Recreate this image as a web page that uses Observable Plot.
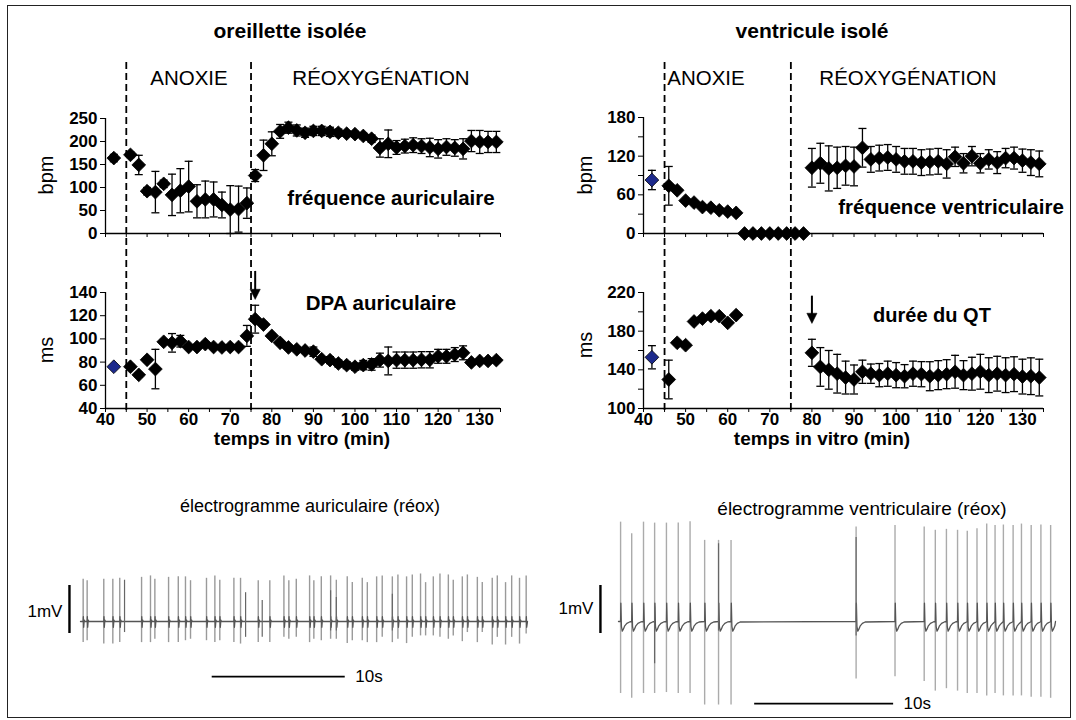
<!DOCTYPE html>
<html><head><meta charset="utf-8">
<script src="https://cdn.jsdelivr.net/npm/d3@7"></script>
<script src="https://cdn.jsdelivr.net/npm/@observablehq/plot@0.6"></script>
<style>
body{margin:0;background:#fff;}
#fig{position:relative;width:1076px;height:720px;overflow:hidden;font-family:"Liberation Sans",Arial,Helvetica,sans-serif;color:#000;background:#fff;}
.t{position:absolute;white-space:nowrap;transform:translate(-50%,-50%);line-height:1;}
.frame{position:absolute;left:7px;top:5px;width:1064px;height:713px;border:1.5px solid #222;box-sizing:border-box;}
</style></head><body><div id="fig"><div class="frame"></div></div>
<script>
// ---------- DATA ----------
const phaseBounds = [45, 75];           // anoxie start, réoxygénation start (min)
const xTickMinor = [40,45,50,55,60,65,70,75,80,85,90,95,100,105,110,115,120,125,130,135];
const xTickLabels = [40,50,60,70,80,90,100,110,120,130];

// oreillette : fréquence auriculaire (bpm)
const atrRateT = [42,46,48,50,52,54,56,58,60,62,64,66,68,70,72,74,76,78,80,82,84,86,88,90,92,94,96,98,100,102,104,106,108,110,112,114,116,118,120,122,124,126,128,130,132,134];
const atrRateM = [164,171,149,92,90,108,84,93,102,70,74,74,62,52,53,66,126,170,195,222,230,224,219,223,223,221,219,217,216,212,206,186,195,187,190,192,190,187,184,188,186,184,201,199,199,199];
const atrRateE = [8,6,21,8,45,8,45,48,55,36,40,38,28,52,50,33,13,33,26,15,12,12,10,10,10,10,8,6,6,6,8,20,30,15,15,16,16,20,20,18,18,22,23,25,23,23];
const atrRateTicks = [0,50,100,150,200,250];

// oreillette : DPA auriculaire (ms)
const atrApdT = atrRateT;
const atrApdM = [76,76,69,82,74,97.5,96.6,98,93,93,95.5,93,92.6,93,93,102.6,117,112.4,102.6,96.6,92.6,91,90,89,82.5,81.7,78.8,77.4,76,77.4,78,81.7,81,81.7,81.7,81.7,82,82,85,85,86.5,88,79.7,81,81,81.7];
const atrApdE = [0,2,2,2,17,2,8,5,2,2,2,2,2,2,2,9,12,2,2,2,2,2,2,4,2,3,3,3,3,4,5,6,12,7,7,7,7,7,6,6,6,6,2,2,2,2];
const atrApdTicks = [40,60,80,100,120,140];

// ventricule : fréquence ventriculaire (bpm)
const venRateT = [42,46,48,50,52,54,56,58,60,62,64,66,68,70,72,74,76,78,80,82,84,86,88,90,92,94,96,98,100,102,104,106,108,110,112,114,116,118,120,122,124,126,128,130,132,134];
const venRateM = [83,74,67,51,48,41,40,36,34,32,0,0,0,0,0,0,0,0,102,109,101,102,105,104,133,115,117,118,115,112,112,110,111,112,108,119,109,120,109,115,110,117,117,113,110,108];
const venRateE = [15,30,0,0,0,0,0,0,0,0,0,0,0,0,0,0,0,0,30,31,35,32,30,30,30,20,20,20,20,20,20,20,20,20,22,15,15,15,15,15,17,15,17,18,20,20];
const venRateTicks = [0,60,120,180];
const venRateMinor = [30,90,150];

// ventricule : durée du QT (ms)
const venQtT = [42,46,48,50,52,54,56,58,60,62,80,82,84,86,88,90,92,94,96,98,100,102,104,106,108,110,112,114,116,118,120,122,124,126,128,130,132,134];
const venQtM = [153,130,168,165.5,190,193,195.5,195.5,188.6,196.6,157.6,143,140,136,132,130,138,136,134.5,136,134.5,133.4,136,135.5,133.4,134.5,135.5,138,134.5,136,138,134.5,136,134.5,135.5,133,133.4,132];
const venQtE = [12,20,0,0,0,0,0,0,0,0,14,20,20,20,17,15,12,10,12,13,13,12,13,13,15,15,15,17,15,17,18,18,18,18,18,18,19,19];
const venQtTicks = [100,140,180,220];
const venQtMinor = [120,160,200];

// annotation arrows (first réoxygénation measurement)
const atrArrow = [{t:76, from:153, to:134}];
const venArrow = [{t:80, from:210, to:188}];

// électrogramme auriculaire (réox) : spike times (s), tops & bottoms (mV)
const atrSpikeT = [0.2,0.5,1.75,2.43,2.95,4.59,5.26,5.59,6.62,7.35,7.89,8.27,9.47,10.1,10.47,11.53,12.03,13.36,14.23,15.29,15.66,16.22,
  17.22,17.54,18.1,18.8,19.23,20.05,20.43,21.18,21.56,22.26,22.68,23.44,23.86,24.51,24.94,25.56,25.94,26.52,27.02,27.65,28.02,28.7,29.08,29.83,30.2,30.95,31.33,31.95,32.41,33.0,33.5];
const atrSpikeTop = [.88,.85,.88,.88,.9,.92,.95,.88,.92,.93,.93,.85,.9,.95,.86,.9,.9,.85,.85,.95,.85,.88,
  .95,.85,.93,.95,.86,.93,.81,.9,.81,.93,.95,.93,.97,.93,.97,.99,.81,.93,.99,.97,.86,.93,.97,.92,.81,.9,.95,.81,.95,.9,.95];
const atrSpikeBot = [-.44,-.4,-.47,-.47,-.44,-.44,-.44,-.37,-.44,-.44,-.4,-.37,-.4,-.44,-.4,-.44,-.47,-.44,-.44,-.33,-.37,-.33,
  -.44,-.37,-.4,-.37,-.37,-.46,-.4,-.4,-.44,-.44,-.33,-.44,-.37,-.46,-.33,-.3,-.3,-.3,-.33,-.37,-.3,-.42,-.23,-.44,-.23,-.49,-.33,-.49,-.33,-.47,-.26];
const atrDarkT = [3.31,12.41,13.66,18.8,19.23,23.44];
const atrDarkTop = [.86,.6,.44,.64,.5,.57];
const atrDarkBot = [-.23,-.33,-.33,-.2,-.2,-.2];
const atrBeatShape = [[0,0],[0.015,0.1],[0.04,-0.12],[0.08,0.03],[0.13,0]];   // (s, mV)
const atrDuration = 33.6;

// électrogramme ventriculaire (réox)
const venSpikeT = [0.15,0.95,1.8,2.6,3.45,4.3,5.15,6.2,7.2,8.1,17.1,19.9,22.0,22.8,23.6,24.4,25.1,25.8,26.5,27.1,27.7,28.4,29.0,29.7,30.4,31.1];
const venSpikeTop = [2.07,1.83,2.07,2.05,2.05,2.05,2.08,1.69,1.69,1.69,1.97,2.0,1.97,1.9,1.92,1.9,1.88,1.93,2.03,2.0,2.01,2.0,2.03,2.0,2.01,2.0];
const venSpikeBot = [-1.5,-1.6,-1.5,-1.5,-1.48,-1.5,-1.5,-1.74,-1.74,-1.74,-1.2,-1.15,-1.25,-1.45,-1.4,-1.45,-1.5,-1.5,-1.55,-1.5,-1.55,-1.55,-1.55,-1.58,-1.58,-1.6];
const venDarkT = [2.6,7.2,17.1];
const venDarkTop = [0.3,1.62,1.75];
const venDarkBot = [-0.88,-0.2,-0.3];
const venBeatShape = [[0,0],[0.02,0.38],[0.06,-0.1],[0.12,-0.2],[0.2,-0.16],[0.3,-0.09],[0.45,-0.04],[0.65,-0.01]];
const venDuration = 31.45;

// ---------- DRAWING ----------
const FONT = '"Liberation Sans", Arial, Helvetica, sans-serif';
const fig = document.getElementById("fig");

function place(svg, left, top) {
  svg.style.position = "absolute";
  svg.style.left = left + "px";
  svg.style.top = top + "px";
  svg.style.maxWidth = "none";
  fig.appendChild(svg);
}
function label(text, x, y, css) {
  const d = document.createElement("div");
  d.className = "t";
  d.textContent = text;
  d.style.left = x + "px";
  d.style.top = y + "px";
  Object.assign(d.style, css || {});
  fig.appendChild(d);
}

const capSymbol = { draw(ctx, size) { const w = Math.sqrt(size / Math.PI); ctx.moveTo(-w, 0); ctx.lineTo(w, 0); } };
// filled arrow head pointing down, tip at the origin
const headSymbol = { draw(ctx, size) { const w = Math.sqrt(size / Math.PI); ctx.moveTo(0, 0); ctx.lineTo(-w * 0.85, -w * 1.7); ctx.lineTo(w * 0.85, -w * 1.7); ctx.closePath(); } };

function panel(o) {
  const data = o.t.map((t, i) => ({ t, m: o.m[i], e: o.e[i], i }));
  const err = data.filter(d => d.e > 0);
  const blue = o.blue ? data.filter(d => d.i === 0) : [];
  const black = o.blue ? data.filter(d => d.i !== 0) : data;
  const marks = [
    Plot.ruleY([o.yDomain[0]], { stroke: "#000", strokeWidth: 1.3 }),
    Plot.ruleX([40], { stroke: "#000", strokeWidth: 1.3 }),
    Plot.axisY({ ticks: o.yTicks, tickSize: 5, tickPadding: 3, tickFormat: d => String(d), label: null }),
    Plot.axisX({ ticks: xTickMinor, tickSize: 4, tickFormat: () => "", label: null }),
    Plot.ruleX(err, { x: "t", y1: d => d.m - d.e, y2: d => d.m + d.e, stroke: "#000", strokeWidth: 1.3 }),
    Plot.dot(err, { x: "t", y: d => d.m + d.e, symbol: capSymbol, r: 4, stroke: "#000", strokeWidth: 1.3, fill: "none" }),
    Plot.dot(err, { x: "t", y: d => Math.max(o.yDomain[0], d.m - d.e), symbol: capSymbol, r: 4, stroke: "#000", strokeWidth: 1.3, fill: "none" }),
    Plot.dot(black, { x: "t", y: "m", symbol: "diamond2", r: 6.2, fill: "#000", stroke: "#000", strokeWidth: 0.8 }),
    Plot.dot(blue, { x: "t", y: "m", symbol: "diamond2", r: 6.2, fill: "#1d2a8c", stroke: "#000", strokeWidth: 0.8 })
  ];
  if (o.yMinor) marks.push(Plot.axisY({ ticks: o.yMinor, tickSize: 5, tickFormat: () => "", label: null }));
  if (o.xLabels) marks.push(Plot.axisX({ ticks: xTickLabels, tickSize: 0, tickPadding: 4, tickFormat: d => String(d), label: null }));
  if (o.arrows) {
    marks.push(Plot.ruleX(o.arrows, { x: "t", y1: "from", y2: "to", stroke: "#000", strokeWidth: 2, dy: -6 }));
    marks.push(Plot.dot(o.arrows, { x: "t", y: "to", symbol: headSymbol, r: 6, fill: "#000", stroke: "#000", strokeWidth: 0.5 }));
  }
  return Plot.plot({
    width: o.W, height: o.H, marginLeft: o.ml, marginRight: o.mr, marginTop: o.mt, marginBottom: o.mb,
    x: { domain: [40, 135] },
    y: { domain: o.yDomain },
    style: { background: "transparent", fontFamily: FONT, fontSize: "17px", fontWeight: "bold", color: "#000", overflow: "visible" },
    marks
  });
}

function dashes(ml, mr, W) {
  return Plot.plot({
    width: W, height: 352, marginLeft: ml, marginRight: mr, marginTop: 0, marginBottom: 0,
    x: { domain: [40, 135] }, axis: null,
    style: { background: "transparent", overflow: "visible" },
    marks: [Plot.ruleX(phaseBounds, { stroke: "#000", strokeWidth: 1.8, strokeDasharray: "7,4" })]
  });
}

function trace(times, shape, t1) {
  const pts = [{ t: 0, v: 0 }];
  times.forEach((t, i) => {
    const next = i < times.length - 1 ? times[i + 1] : t1;
    for (const [dt, v] of shape) if (t + dt < next - 0.02 && t + dt <= t1) pts.push({ t: t + dt, v });
  });
  pts.push({ t: t1, v: 0 });
  return pts;
}

function electro(o) {
  const spikes = o.st.map((t, i) => ({ t, top: o.top[i], bot: o.bot[i] }));
  const dark = o.dt.map((t, i) => ({ t, top: o.dtop[i], bot: o.dbot[i] }));
  const line = trace(o.st, o.shape, o.dur);
  const sb = o.scale;
  return Plot.plot({
    width: o.W, height: o.H, marginLeft: o.ml, marginRight: o.mr, marginTop: o.mt, marginBottom: o.mb,
    x: { domain: [0, o.dur] }, y: { domain: o.yDomain }, axis: null,
    style: { background: "transparent", fontFamily: FONT, fontSize: "17px", color: "#000", overflow: "visible" },
    marks: [
      Plot.ruleX(spikes, { x: "t", y1: "bot", y2: "top", stroke: o.spikeColor, strokeWidth: 1.4 }),
      Plot.line(line, { x: "t", y: "v", stroke: "#555", strokeWidth: 1.3 }),
      Plot.ruleX(dark, { x: "t", y1: "bot", y2: "top", stroke: "#666", strokeWidth: 1.2 }),
      Plot.ruleX([sb], { x: "barT", y1: "lo", y2: "hi", stroke: "#000", strokeWidth: 2.4 }),
      Plot.text([sb], { x: "barT", y: "mvY", text: () => "1mV", textAnchor: "end", dx: -7, fill: "#000" }),
      Plot.ruleY([sb], { y: "sY", x1: "s0", x2: "s1", stroke: "#000", strokeWidth: 1.8 }),
      Plot.text([sb], { x: "s1", y: "sY", text: () => "10s", textAnchor: "start", dx: 10, fill: "#000" })
    ]
  });
}

// dashed phase boundaries (behind the charts)
place(dashes(105, 40, 540), 0, 62);
place(dashes(103, 33, 536), 540, 62);

// charts
place(panel({ t: atrRateT, m: atrRateM, e: atrRateE, yDomain: [0, 250], yTicks: atrRateTicks,
  W: 540, H: 145, ml: 105, mr: 40, mt: 18, mb: 12 }), 0, 100);
place(panel({ t: atrApdT, m: atrApdM, e: atrApdE, yDomain: [40, 140], yTicks: atrApdTicks, blue: true, xLabels: true, arrows: atrArrow,
  W: 540, H: 175, ml: 105, mr: 40, mt: 22, mb: 37 }), 0, 270);
place(panel({ t: venRateT, m: venRateM, e: venRateE, yDomain: [0, 180], yTicks: venRateTicks, yMinor: venRateMinor, blue: true,
  W: 536, H: 145, ml: 103, mr: 33, mt: 17, mb: 12 }), 540, 100);
place(panel({ t: venQtT, m: venQtM, e: venQtE, yDomain: [100, 220], yTicks: venQtTicks, yMinor: venQtMinor, blue: true, xLabels: true, arrows: venArrow,
  W: 536, H: 175, ml: 103, mr: 33, mt: 22, mb: 37 }), 540, 270);

// electrograms
place(electro({ st: atrSpikeT, top: atrSpikeTop, bot: atrSpikeBot, dt: atrDarkT, dtop: atrDarkTop, dbot: atrDarkBot,
  shape: atrBeatShape, dur: atrDuration, yDomain: [-1.8, 1.5], spikeColor: "#9a9a9a",
  scale: { barT: -0.83, lo: -0.25, hi: 0.75, mvY: 0.2, s0: 9.9, s1: 19.9, sY: -1.15 },
  W: 540, H: 170, ml: 80, mr: 13, mt: 9, mb: 2.6 }), 0, 540);
place(electro({ st: venSpikeT, top: venSpikeTop, bot: venSpikeBot, dt: venDarkT, dtop: venDarkTop, dbot: venDarkBot,
  shape: venBeatShape, dur: venDuration, yDomain: [-1.9, 2.3], spikeColor: "#ababab",
  scale: { barT: -1.3, lo: -0.25, hi: 0.75, mvY: 0.27, s0: 9.8, s1: 19.8, sY: -1.71 },
  W: 536, H: 215, ml: 78, mr: 21, mt: 10.6, mb: 2.8 }), 540, 500);

// texts
label("oreillette isolée", 290, 30, { fontWeight: "bold", fontSize: "21px" });
label("ventricule isolé", 812, 30, { fontWeight: "bold", fontSize: "21px" });
label("ANOXIE", 189, 78, { fontSize: "20.5px" });
label("RÉOXYGÉNATION", 381, 78, { fontSize: "20.5px" });
label("ANOXIE", 706, 78, { fontSize: "20.5px" });
label("RÉOXYGÉNATION", 908, 78, { fontSize: "20.5px" });
const rot = "translate(-50%,-50%) rotate(-90deg)";
label("bpm", 46, 175, { fontSize: "20px", transform: rot });
label("ms", 46, 350, { fontSize: "20px", transform: rot });
label("bpm", 585, 175, { fontSize: "20px", transform: rot });
label("ms", 585, 345, { fontSize: "20px", transform: rot });
label("fréquence auriculaire", 391, 198, { fontWeight: "bold", fontSize: "20.5px" });
label("DPA auriculaire", 381, 303, { fontWeight: "bold", fontSize: "20.5px" });
label("fréquence ventriculaire", 951, 207, { fontWeight: "bold", fontSize: "20.5px" });
label("durée du QT", 932, 315, { fontWeight: "bold", fontSize: "20px" });
label("temps in vitro (min)", 302, 438, { fontWeight: "bold", fontSize: "19px" });
label("temps in vitro (min)", 822, 438, { fontWeight: "bold", fontSize: "19px" });
label("électrogramme auriculaire (réox)", 310, 506, { fontSize: "18px" });
label("électrogramme ventriculaire (réox)", 862, 508, { fontSize: "19px" });
</script></body></html>
